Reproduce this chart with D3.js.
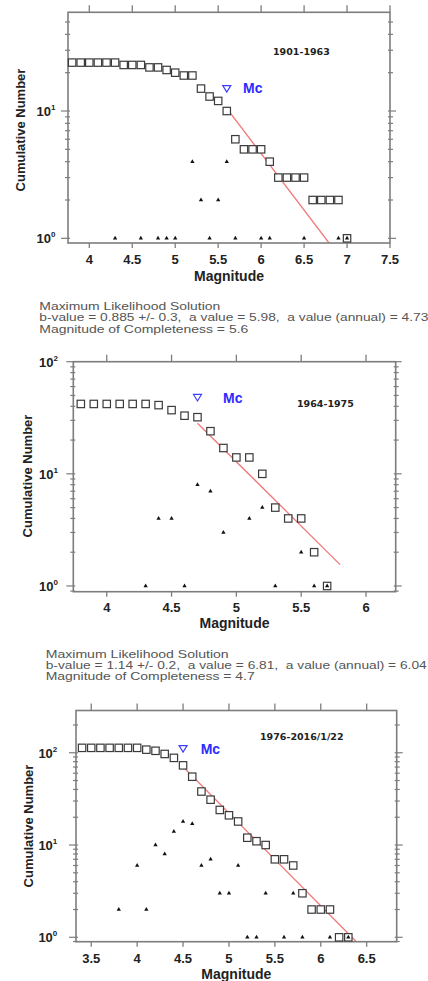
<!DOCTYPE html>
<html><head><meta charset="utf-8">
<script src="https://cdn.jsdelivr.net/npm/d3@7"></script>
<style>body{margin:0;background:#fff}svg{display:block}</style>
</head><body>
<svg id="c" width="428" height="981"></svg>
<script>
// ---------------- DATA ----------------
const periods = ["1901-1963", "1964-1975", "1976-2016/1/22"];

// Panel 1 (1901-1963): cumulative number (squares)
const mags1 = [3.8,3.9,4.0,4.1,4.2,4.3,4.4,4.5,4.6,4.7,4.8,4.9,5.0,5.1,5.2,5.3,5.4,5.5,5.6,5.7,5.8,5.9,6.0,6.1,6.2,6.3,6.4,6.5,6.6,6.7,6.8,6.9,7.0];
const cum1  = [24,24,24,24,24,24,23,23,23,22,22,21,20,19,19,15,13,12,10,6,5,5,5,4,3,3,3,3,2,2,2,2,1];
// non-cumulative (triangles)
const tMags1 = [4.3,4.6,4.8,4.9,5.0,5.2,5.3,5.4,5.5,5.6,5.7,6.0,6.1,6.5,6.9,7.0];
const tCnt1  = [1,1,1,1,1,4,2,1,2,4,1,1,1,1,1,1];

// Panel 2 (1964-1975)
const mags2 = [3.8,3.9,4.0,4.1,4.2,4.3,4.4,4.5,4.6,4.7,4.8,4.9,5.0,5.1,5.2,5.3,5.4,5.5,5.6,5.7];
const cum2  = [42,42,42,42,42,42,41,37,33,32,24,17,14,14,10,5,4,4,2,1];
const tMags2 = [4.3,4.4,4.5,4.6,4.7,4.8,4.9,5.1,5.2,5.3,5.5,5.6,5.7];
const tCnt2  = [1,4,4,1,8,7,3,4,5,1,2,1,1];

// Panel 3 (1976-2016/1/22)
const mags3 = [3.4,3.5,3.6,3.7,3.8,3.9,4.0,4.1,4.2,4.3,4.4,4.5,4.6,4.7,4.8,4.9,5.0,5.1,5.2,5.3,5.4,5.5,5.6,5.7,5.8,5.9,6.0,6.1,6.2,6.3];
const cum3  = [113,113,113,113,113,113,113,108,105,97,88,73,55,38,31,24,21,18,12,11,10,7,7,6,3,2,2,2,1,1];
const tMags3 = [3.8,4.0,4.1,4.2,4.3,4.4,4.5,4.6,4.7,4.8,4.9,5.0,5.1,5.2,5.3,5.4,5.6,5.7,5.8,6.1,6.3];
const tCnt3  = [2,6,2,10,8,14,18,17,6,7,3,3,6,1,1,3,1,3,1,1,1];

// Magnitude of completeness marker [Mc, N]
const mc1 = [5.6, 15];
const mc2 = [4.7, 48];
const mc3 = [4.5, 111];

// Fitted G-R lines: [[M, N], [M, N]]
const fit1 = [[5.6, 10.5], [6.79, 0.92]];
const fit2 = [[4.7, 28.3], [5.8, 1.55]];
const fit3 = [[4.5, 70.5], [6.385, 0.9]];

// Tick values
const xTicks1 = [4, 4.5, 5, 5.5, 6, 6.5, 7, 7.5];
const xTicks2 = [4, 4.5, 5, 5.5, 6];
const xTicks3 = [3.5, 4, 4.5, 5, 5.5, 6, 6.5];
const yTicks1 = [1, 10];
const yTicks2 = [1, 10, 100];
const yTicks3 = [1, 10, 100];

// Solution text
const stats1 = ["Maximum Likelihood Solution",
  "b-value = 0.885 +/- 0.3,  a value = 5.98,  a value (annual) = 4.73",
  "Magnitude of Completeness = 5.6"];
const stats2 = ["Maximum Likelihood Solution",
  "b-value = 1.14 +/- 0.2,  a value = 6.81,  a value (annual) = 6.04",
  "Magnitude of Completeness = 4.7"];

// ---------------- LAYOUT ----------------
const layout = [
  {l:68, r:390, t:12.3, b:243, xd:[3.752,7.5], yd:[0.919,59.6],
   yLabR:55.5, yTitle:[25,130], xLabY:264, xTitleY:281,
   mcText:[243,93], per:[273,54.5]},
  {l:73.3, r:395.7, t:361.7, b:591.7, xd:[3.742,6.229], yd:[0.889,100],
   yLabR:58, yTitle:[31.5,476], xLabY:612, xTitleY:628,
   mcText:[223,402.5], per:[297,407]},
  {l:76, r:396.7, t:710.5, b:941.7, xd:[3.334,6.827], yd:[0.896,287],
   yLabR:57.3, yTitle:[32.5,826], xLabY:963, xTitleY:979,
   mcText:[200.7,754], per:[260,740]}
];
const textBlocks = [
  {lines: stats1, x:39.3, ys:[310,321,333], lens:[181,389,209]},
  {lines: stats2, x:45.7, ys:[658,669,680], lens:[183,381,209]}
];

const panels = [
  {mags:mags1, cum:cum1, tm:tMags1, tc:tCnt1, mc:mc1, fit:fit1, xt:xTicks1, yt:yTicks1, per:periods[0]},
  {mags:mags2, cum:cum2, tm:tMags2, tc:tCnt2, mc:mc2, fit:fit2, xt:xTicks2, yt:yTicks2, per:periods[1]},
  {mags:mags3, cum:cum3, tm:tMags3, tc:tCnt3, mc:mc3, fit:fit3, xt:xTicks3, yt:yTicks3, per:periods[2]}
];

// ---------------- DRAW ----------------
const svg = d3.select("#c");
const axisCol = "#7d7d7d";
const F = "'Liberation Sans', Arial, sans-serif";

panels.forEach((p, i) => {
  const L = layout[i];
  const x = d3.scaleLinear().domain(L.xd).range([L.l, L.r]);
  const y = d3.scaleLog().domain(L.yd).range([L.b, L.t]);
  const g = svg.append("g");

  const clipId = "clip" + i;
  svg.append("clipPath").attr("id", clipId).append("rect")
    .attr("x", L.l).attr("y", L.t).attr("width", L.r - L.l).attr("height", L.b - L.t);

  // fit line
  g.append("path").attr("clip-path", `url(#${clipId})`)
    .attr("d", d3.line().x(d => x(d[0])).y(d => y(d[1]))(p.fit))
    .attr("stroke", "#f07878").attr("stroke-width", 1.3).attr("fill", "none");

  // frame
  g.append("rect").attr("x", L.l).attr("y", L.t).attr("width", L.r - L.l).attr("height", L.b - L.t)
    .attr("fill", "none").attr("stroke", axisCol).attr("stroke-width", 1.6);

  // x ticks bottom & top
  p.xt.forEach(v => {
    const xx = x(v);
    g.append("line").attr("x1", xx).attr("x2", xx).attr("y1", L.b).attr("y2", L.b + 5)
      .attr("stroke", axisCol).attr("stroke-width", 1.3);
    g.append("line").attr("x1", xx).attr("x2", xx).attr("y1", L.t).attr("y2", L.t - 7)
      .attr("stroke", axisCol).attr("stroke-width", 1.3);
    g.append("text").attr("x", xx).attr("y", L.xLabY).attr("text-anchor", "middle")
      .attr("font-family", F).attr("font-weight", "bold").attr("font-size", 13)
      .attr("fill", "#222").text(String(v));
  });

  // y ticks (log): majors & minors
  const all = y.ticks().filter(v => v >= L.yd[0] && v <= L.yd[1]);
  all.forEach(v => {
    const yy = y(v);
    const major = p.yt.includes(v);
    const lo = major ? 7 : 3, li = 2;
    g.append("line").attr("x1", L.l - lo).attr("x2", L.l + li).attr("y1", yy).attr("y2", yy)
      .attr("stroke", axisCol).attr("stroke-width", 1.2);
    g.append("line").attr("x1", L.r - li).attr("x2", L.r + (major ? 6 : 3)).attr("y1", yy).attr("y2", yy)
      .attr("stroke", axisCol).attr("stroke-width", 1.2);
  });
  p.yt.forEach(v => {
    const t = g.append("text").attr("x", L.yLabR).attr("y", y(v) + 5).attr("text-anchor", "end")
      .attr("font-family", F).attr("font-weight", "bold").attr("font-size", 13).attr("fill", "#222");
    t.append("tspan").text("10");
    t.append("tspan").attr("font-size", 8).attr("dy", -6).text(String(Math.round(Math.log10(v))));
  });

  // axis titles
  g.append("text").attr("x", (L.l + L.r) / 2).attr("y", L.xTitleY).attr("text-anchor", "middle")
    .attr("font-family", F).attr("font-weight", "bold").attr("font-size", 14).attr("fill", "#222")
    .text("Magnitude");
  g.append("text").attr("transform", `translate(${L.yTitle[0]},${L.yTitle[1]}) rotate(-90)`)
    .attr("text-anchor", "middle").attr("font-family", F).attr("font-weight", "bold")
    .attr("font-size", 13).attr("fill", "#222").text("Cumulative Number");

  // squares (cumulative)
  const s = 7.4;
  g.selectAll(".sq").data(p.mags.map((m, k) => [m, p.cum[k]])).join("rect")
    .attr("x", d => x(d[0]) - s / 2).attr("y", d => y(d[1]) - s / 2)
    .attr("width", s).attr("height", s)
    .attr("fill", "#fff").attr("stroke", "#3a3a3a").attr("stroke-width", 1.2);

  // triangles (non-cumulative)
  const tri = d3.symbol().type(d3.symbolTriangle).size(8);
  g.selectAll(".tr").data(p.tm.map((m, k) => [m, p.tc[k]])).join("path")
    .attr("d", tri).attr("transform", d => `translate(${x(d[0])},${y(d[1])})`)
    .attr("fill", "#111");

  // Mc marker
  const mx = x(p.mc[0]), my = y(p.mc[1]);
  g.append("path").attr("d", `M${mx-4},${my-3}L${mx+4},${my-3}L${mx},${my+3.5}Z`)
    .attr("fill", "none").attr("stroke", "#3d3dff").attr("stroke-width", 1.2);
  g.append("text").attr("x", L.mcText[0]).attr("y", L.mcText[1])
    .attr("font-family", F).attr("font-weight", "bold").attr("font-size", 14)
    .attr("fill", "#2b2bff").text("Mc");

  // period label
  g.append("text").attr("x", L.per[0]).attr("y", L.per[1])
    .attr("font-family", "'DejaVu Sans', sans-serif").attr("font-weight", "bold")
    .attr("font-size", 9.5).attr("fill", "#222").text(p.per);
});

// stats text blocks
textBlocks.forEach(tb => {
  tb.lines.forEach((ln, k) => {
    svg.append("text").attr("x", tb.x).attr("y", tb.ys[k])
      .attr("font-family", F).attr("font-size", 11.5).attr("fill", "#555")
      .style("white-space", "pre")
      .attr("textLength", tb.lens[k]).attr("lengthAdjust", "spacingAndGlyphs")
      .text(ln);
  });
});
</script>
</body></html>
